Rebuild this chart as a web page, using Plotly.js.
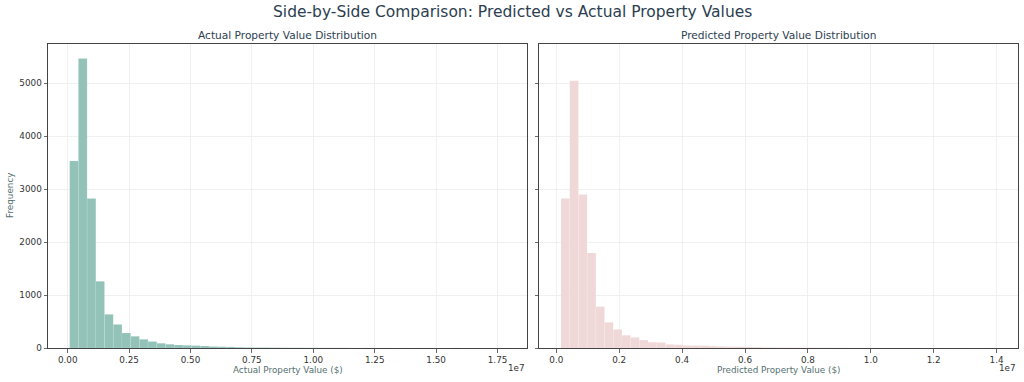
<!DOCTYPE html>
<html>
<head>
<meta charset="utf-8">
<script src="https://cdn.plot.ly/plotly-3.0.1.min.js"></script>
<style>
  html, body { margin: 0; padding: 0; background: #ffffff; }
  #chart { width: 1024px; height: 382px; }
</style>
</head>
<body>
<div id="chart"></div>
<script>
// ---- Data (x values in units of 1e7 dollars) ----
const actualBinStart = 0.0081;
const actualBinWidth = 0.03546;
const actualCounts = [3535, 5470, 2823, 1260, 636, 445, 284, 221, 164, 123,
                      89, 70, 57, 50, 45, 38, 28, 24, 20, 14,
                      11, 9, 8, 6, 5, 4, 4, 3, 3, 2,
                      2, 2, 1, 1, 2, 1, 1, 0, 1, 0,
                      1, 1, 0, 0, 1, 0, 0, 0, 0, 1];

const predictedBinStart = 0.0150;
const predictedBinWidth = 0.02768;
const predictedCounts = [2823, 5047, 2899, 1796, 781, 485, 350, 240, 200, 150,
                         110, 105, 68, 62, 48, 46, 44, 36, 30, 26,
                         24, 20, 18, 12, 10, 8, 7, 6, 5, 4,
                         4, 3, 3, 2, 2, 2, 1, 1, 1, 1,
                         1, 0, 1, 1, 0, 0, 1, 0, 0, 1];

const mainTitle = "Side-by-Side Comparison: Predicted vs Actual Property Values";
const leftTitle = "Actual Property Value Distribution";
const rightTitle = "Predicted Property Value Distribution";
const leftXLabel = "Actual Property Value ($)";
const rightXLabel = "Predicted Property Value ($)";
const yLabel = "Frequency";
const offsetLabel = "1e7";

// ---- Build bin centers ----
function centers(start, width, n) {
  const c = [];
  for (let i = 0; i < n; i++) c.push(start + width * (i + 0.5));
  return c;
}

const FONT = "DejaVu Sans, Liberation Sans, sans-serif";
const W = 1024, H = 382;
const px = v => v / W;
const py = v => 1 - v / H;

const traces = [
  {
    type: "bar",
    x: centers(actualBinStart, actualBinWidth, actualCounts.length),
    y: actualCounts,
    width: actualBinWidth,
    marker: { color: "rgb(146,194,184)", line: { color: "rgba(255,255,255,0.35)", width: 0.3 } },
    xaxis: "x", yaxis: "y",
    showlegend: false,
    hoverinfo: "x+y"
  },
  {
    type: "bar",
    x: centers(predictedBinStart, predictedBinWidth, predictedCounts.length),
    y: predictedCounts,
    width: predictedBinWidth,
    marker: { color: "rgb(240,216,216)", line: { color: "rgba(255,255,255,0.35)", width: 0.3 } },
    xaxis: "x2", yaxis: "y2",
    showlegend: false,
    hoverinfo: "x+y"
  }
];

const axisCommon = {
  showline: true,
  linecolor: "#444444",
  linewidth: 1,
  mirror: true,
  ticks: "outside",
  ticklen: 3.5,
  tickwidth: 0.8,
  tickcolor: "#444444",
  showgrid: true,
  gridcolor: "#ececec",
  gridwidth: 0.8,
  zeroline: false,
  tickfont: { family: FONT, size: 8.8, color: "#333333" }
};

const yTop = 5743;

const layout = {
  width: W,
  height: H,
  margin: { l: 0, r: 0, t: 0, b: 0 },
  paper_bgcolor: "#ffffff",
  plot_bgcolor: "#ffffff",
  bargap: 0,
  font: { family: FONT, color: "#333333" },
  xaxis: Object.assign({}, axisCommon, {
    domain: [px(48), px(527)],
    range: [-0.0802, 1.870],
    tick0: 0, dtick: 0.25,
    tickformat: ".2f",
    anchor: "y"
  }),
  yaxis: Object.assign({}, axisCommon, {
    domain: [1 - 348 / H, 1 - 44 / H],
    range: [0, yTop],
    tick0: 0, dtick: 1000,
    anchor: "x"
  }),
  xaxis2: Object.assign({}, axisCommon, {
    domain: [px(539), px(1018)],
    range: [-0.055, 1.468],
    tick0: 0, dtick: 0.2,
    tickformat: ".1f",
    anchor: "y2"
  }),
  yaxis2: Object.assign({}, axisCommon, {
    domain: [1 - 348 / H, 1 - 44 / H],
    range: [0, yTop],
    tick0: 0, dtick: 1000,
    showticklabels: false,
    anchor: "x2"
  }),
  annotations: [
    { text: mainTitle, xref: "paper", yref: "paper", x: 0.5, y: py(12),
      xanchor: "center", yanchor: "middle", showarrow: false,
      font: { family: FONT, size: 15.5, color: "#2c3e50" } },
    { text: leftTitle, xref: "paper", yref: "paper", x: px(287.5), y: py(35),
      xanchor: "center", yanchor: "middle", showarrow: false,
      font: { family: FONT, size: 10.6, color: "#2c3e50" } },
    { text: rightTitle, xref: "paper", yref: "paper", x: px(778.5), y: py(35),
      xanchor: "center", yanchor: "middle", showarrow: false,
      font: { family: FONT, size: 10.6, color: "#2c3e50" } },
    { text: leftXLabel, xref: "paper", yref: "paper", x: px(287.5), y: py(370),
      xanchor: "center", yanchor: "middle", showarrow: false,
      font: { family: FONT, size: 8.8, color: "#557070" } },
    { text: rightXLabel, xref: "paper", yref: "paper", x: px(778.5), y: py(370),
      xanchor: "center", yanchor: "middle", showarrow: false,
      font: { family: FONT, size: 8.8, color: "#557070" } },
    { text: yLabel, xref: "paper", yref: "paper", x: px(10), y: py(196),
      xanchor: "center", yanchor: "middle", showarrow: false, textangle: -90,
      font: { family: FONT, size: 8.8, color: "#557070" } },
    { text: offsetLabel, xref: "paper", yref: "paper", x: px(527), y: py(368),
      xanchor: "right", yanchor: "middle", showarrow: false,
      font: { family: FONT, size: 8.8, color: "#333333" } },
    { text: offsetLabel, xref: "paper", yref: "paper", x: px(1018), y: py(368),
      xanchor: "right", yanchor: "middle", showarrow: false,
      font: { family: FONT, size: 8.8, color: "#333333" } }
  ]
};

Plotly.newPlot("chart", traces, layout, { displayModeBar: false, staticPlot: true });
</script>
</body>
</html>
